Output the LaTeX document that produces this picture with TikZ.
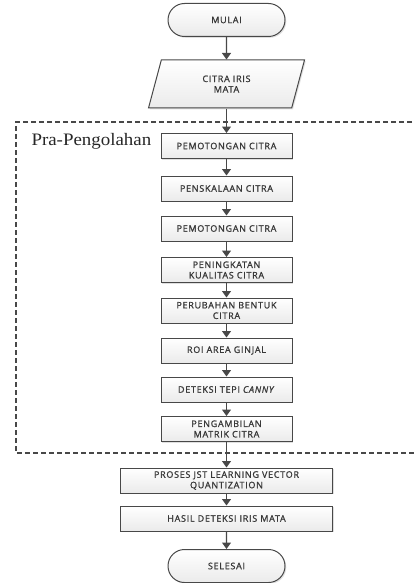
\documentclass[tikz,border=0pt]{standalone}
\usepackage{fontspec}
\newfontfamily\kotakfont[LetterSpace=8,FakeBold=1.2]{Open Sans}
\newfontfamily\judulfont[FakeStretch=1.08]{Liberation Serif}
\usetikzlibrary{shapes.geometric}
\usetikzlibrary{shapes.misc}
\usetikzlibrary{arrows.meta}
\usetikzlibrary{shadows}
\definecolor{garis}{HTML}{484848}
\definecolor{teks}{HTML}{383838}
\tikzset{
  kotak/.style={draw=garis, line width=1pt, top color=white, bottom color=gray!16,
    drop shadow={shadow xshift=1.3pt, shadow yshift=-1.3pt, fill=gray!50},
    minimum width=131pt, minimum height=25pt, inner sep=1pt, align=center,
    text=teks, font=\kotakfont\fontsize{9}{10.5}\selectfont},
  ujung/.style={kotak, rounded rectangle, minimum width=119pt, minimum height=33pt},
  masuk/.style={kotak, trapezium, trapezium left angle=56, trapezium right angle=124,
    trapezium stretches body, minimum width=156pt, minimum height=48pt},
  panah/.style={draw=garis, line width=1.1pt, -{Triangle[width=9pt,length=6.5pt]}},
  batas/.style={draw=garis, line width=1.4pt, dash pattern=on 5pt off 3pt}
}
\begin{document}
\begin{tikzpicture}[x=1pt,y=-1pt]
            \useasboundingbox (0,0) rectangle (414,583);
            \draw[batas] (420,122) -- (16,122) -- (16,453) -- (420,453);
            \node[anchor=base west, font=\judulfont\fontsize{17.5}{19}\selectfont, text=black!85] (judul) at (28,146) {Pra-Pengolahan};
            \node[ujung] (mulai) at (226.5,20) {MULAI};
            \node[masuk] (citra) at (226.5,84) {CITRA IRIS\\MATA};
            \node[kotak] (potong1) at (226.5,146) {PEMOTONGAN CITRA};
            \node[kotak] (skala) at (226.5,188.5) {PENSKALAAN CITRA};
            \node[kotak] (potong2) at (226.5,228.5) {PEMOTONGAN CITRA};
            \node[kotak] (kualitas) at (226.5,270) {PENINGKATAN\\KUALITAS CITRA};
            \node[kotak] (bentuk) at (226.5,310.5) {PERUBAHAN BENTUK\\CITRA};
            \node[kotak] (roi) at (226.5,350.5) {ROI AREA GINJAL};
            \node[kotak] (tepi) at (226.5,389.5) {DETEKSI TEPI \textit{CANNY}};
            \node[kotak] (matrik) at (226.5,429) {PENGAMBILAN\\MATRIK CITRA};
            \node[kotak, minimum width=212pt] (lvq) at (226.5,480.5) {PROSES JST LEARNING VECTOR\\QUANTIZATION};
            \node[kotak, minimum width=212pt] (hasil) at (226.5,518.5) {HASIL DETEKSI IRIS MATA};
            \node[ujung] (selesai) at (226.5,566) {SELESAI};
            \draw[panah] (mulai) -- (citra);
            \draw[panah] (citra) -- (potong1);
            \draw[panah] (potong1) -- (skala);
            \draw[panah] (skala) -- (potong2);
            \draw[panah] (potong2) -- (kualitas);
            \draw[panah] (kualitas) -- (bentuk);
            \draw[panah] (bentuk) -- (roi);
            \draw[panah] (roi) -- (tepi);
            \draw[panah] (tepi) -- (matrik);
            \draw[panah] (matrik) -- (lvq);
            \draw[panah] (lvq) -- (hasil);
            \draw[panah] (hasil) -- (selesai);
        \end{tikzpicture}
\end{document}
